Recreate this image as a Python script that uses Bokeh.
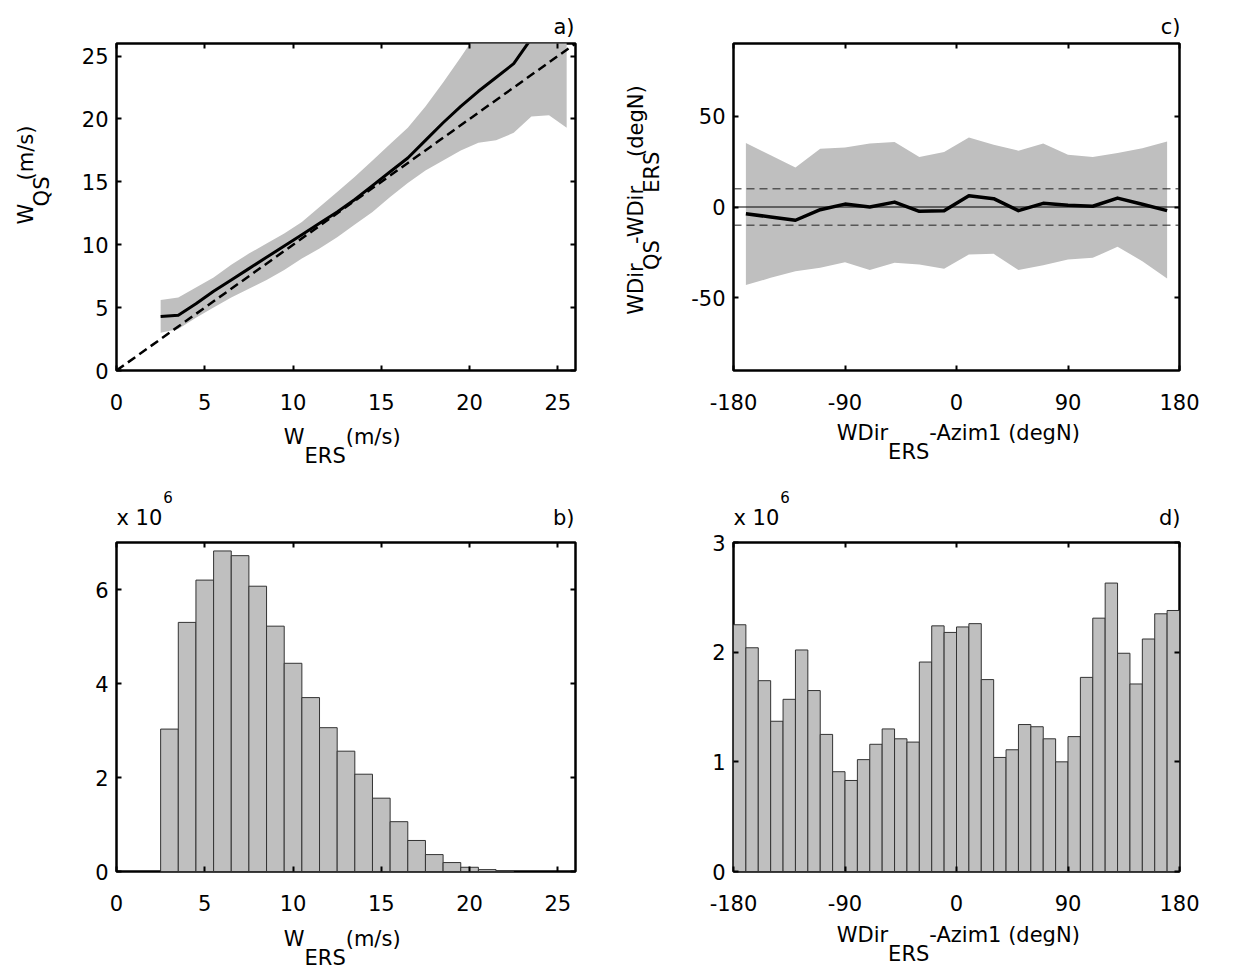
import math
from bokeh.plotting import figure
from bokeh.layouts import column, row
from bokeh.models import Range1d, FixedTicker, LinearAxis, Span
from bokeh.core.properties import value
from bokeh.embed import file_html
from bokeh.resources import INLINE

# ---------------- data ----------------
# panel a: W_QS vs W_ERS (bin centres, mean, band)
a_x = [2.5, 3.5, 4.5, 5.5, 6.5, 7.5, 8.5, 9.5, 10.5, 11.5, 12.5, 13.5, 14.5,
       15.5, 16.5, 17.5, 18.5, 19.5, 20.5, 21.5, 22.5, 23.5, 24.5, 25.5]
a_mean = [4.3, 4.4, 5.3, 6.3, 7.2, 8.1, 9.0, 9.9, 10.8, 11.7, 12.6, 13.6, 14.7,
          15.8, 16.9, 18.3, 19.7, 21.0, 22.2, 23.3, 24.4, 26.4, 28.0, 29.5]
a_upper = [5.6, 5.8, 6.6, 7.4, 8.4, 9.3, 10.1, 10.9, 11.8, 13.0, 14.2, 15.4, 16.7,
           18.0, 19.3, 21.0, 22.9, 24.9, 27.0, 28.5, 30.0, 31.0, 32.0, 33.0]
a_lower = [3.0, 3.3, 4.2, 5.0, 5.8, 6.5, 7.2, 8.0, 8.9, 9.7, 10.6, 11.6, 12.6,
           13.8, 14.9, 15.9, 16.7, 17.5, 18.1, 18.3, 18.9, 20.2, 20.3, 19.3]
a_one_to_one = [0, 26]

# panel b: histogram of W_ERS (x 10^6)
b_centers = [3, 4, 5, 6, 7, 8, 9, 10, 11, 12, 13, 14, 15, 16, 17, 18, 19, 20, 21, 22]
b_counts_1e6 = [3.03, 5.30, 6.20, 6.82, 6.72, 6.07, 5.22, 4.43, 3.70, 3.06, 2.56,
                2.07, 1.56, 1.06, 0.66, 0.36, 0.19, 0.09, 0.04, 0.015]

# panel c: direction difference vs relative direction
c_x = [-170, -150, -130, -110, -90, -70, -50, -30, -10, 10, 30, 50, 70, 90, 110, 130, 150, 170]
c_mean = [-3.7, -5.5, -7.3, -1.5, 1.6, 0.0, 2.7, -2.4, -2.0, 6.2, 4.6, -2.0, 2.0, 0.9, 0.4, 4.9, 1.5, -2.0]
c_upper = [35.2, 28.5, 21.8, 32.1, 32.8, 34.9, 35.8, 27.5, 30.3, 38.3, 34.3, 31.0, 35.0, 28.8, 27.5, 29.7, 32.4, 36.1]
c_lower = [-43.0, -39.0, -35.3, -33.5, -30.4, -34.7, -30.7, -31.6, -34.0, -26.1, -25.8, -34.7, -32.0, -28.9, -28.0, -21.9, -29.8, -39.3]
c_ref_levels = [-10, 10]

# panel d: histogram of relative direction (x 10^6)
d_centers = [-175, -165, -155, -145, -135, -125, -115, -105, -95, -85, -75, -65,
             -55, -45, -35, -25, -15, -5, 5, 15, 25, 35, 45, 55, 65, 75, 85, 95,
             105, 115, 125, 135, 145, 155, 165, 175]
d_counts_1e6 = [2.25, 2.04, 1.74, 1.37, 1.57, 2.02, 1.65, 1.25, 0.91, 0.83, 1.02, 1.16,
                1.30, 1.21, 1.18, 1.91, 2.24, 2.18, 2.23, 2.26, 1.75, 1.04, 1.11, 1.34,
                1.32, 1.21, 1.00, 1.23, 1.77, 2.31, 2.63, 1.99, 1.71, 2.12, 2.35, 2.38]

w_ticks = [0, 5, 10, 15, 20, 25]
dir_ticks = [-180, -90, 0, 90, 180]
c_yticks = [-50, 0, 50]
b_yticks = [0, 2, 4, 6]
d_yticks = [0, 1, 2, 3]
minus_labels = {-180: "-180", -90: "-90", -50: "-50"}

# axis label texts: (text, is_subscript)
lab_w_ers = [("W", False), ("ERS", True), (" (m/s)", False)]
lab_w_qs = [("W", False), ("QS", True), (" (m/s)", False)]
lab_dir_rel = [("WDir", False), ("ERS", True), ("-Azim1 (degN)", False)]
lab_dir_diff = [("WDir", False), ("QS", True), ("-WDir", False), ("ERS", True), (" (degN)", False)]

FONT = "DejaVu Sans"
FSN = 21
FS = "21px"
GRAY = "#bfbfbf"
BASE_FIX = 0.38  # empirical offset of the alphabetic baseline in the svg output (em)

# approximate DejaVu Sans advance widths (em) for centring composed labels
ADV = {"W": 0.989, "D": 0.770, "i": 0.278, "r": 0.411, "E": 0.632, "R": 0.695,
       "S": 0.635, "-": 0.361, "A": 0.684, "z": 0.525, "m": 0.974, "1": 0.636,
       " ": 0.318, "(": 0.390, ")": 0.390, "d": 0.635, "e": 0.615, "g": 0.635,
       "N": 0.748, "Q": 0.787, "/": 0.337, "s": 0.521, "x": 0.592, "0": 0.636}


def tw(t, size=FSN):
    return sum(ADV.get(c, 0.6) for c in t) * size


def make_fig(w, h, bl, br, bt, bb, xr, yr, xt, yt):
    p = figure(width=w, height=h, x_range=Range1d(*xr), y_range=Range1d(*yr),
               output_backend="svg", toolbar_location=None,
               min_border_left=bl, min_border_right=br,
               min_border_top=bt, min_border_bottom=bb)
    p.xgrid.visible = False
    p.ygrid.visible = False
    p.background_fill_color = "white"
    p.border_fill_color = "white"
    p.outline_line_color = "black"
    p.outline_line_width = 2.5
    p.add_layout(LinearAxis(), "above")
    p.add_layout(LinearAxis(), "right")
    for ax in p.xaxis:
        ax.ticker = FixedTicker(ticks=xt)
    for ax in p.yaxis:
        ax.ticker = FixedTicker(ticks=yt)
    for ax in p.axis:
        ax.axis_line_color = None
        ax.major_tick_in = 5
        ax.major_tick_out = 0
        ax.major_tick_line_width = 2
        ax.minor_tick_line_color = None
        ax.major_label_text_font = FONT
        ax.major_label_text_font_size = FS
        ax.major_label_text_color = "black"
        ax.major_label_overrides = minus_labels
    p.below[0].major_label_standoff = 23
    p.left[0].major_label_standoff = 8
    for ax in (p.above[0], p.right[0]):
        ax.major_label_text_color = None
        ax.major_label_text_font_size = "0px"
        ax.major_label_standoff = 0
    return p


def strip(x0, y0, w, h):
    s = figure(width=w, height=h, x_range=Range1d(x0, x0 + w), y_range=Range1d(y0 + h, y0),
               x_axis_type=None, y_axis_type=None, output_backend="svg",
               toolbar_location=None, min_border=0)
    s.outline_line_color = None
    s.background_fill_color = "white"
    s.border_fill_color = "white"
    return s


def put(s, X, Y, t, align="left", angle=0.0, size=FSN):
    fix = BASE_FIX * size
    if angle == 0.0:
        Y = Y - fix
    else:
        X = X - fix
    s.text(x=[X], y=[Y], text=[t], angle=angle, text_align=align,
           text_baseline="alphabetic", text_font=value(FONT),
           text_font_size=value(f"{size}px"), text_color="black")


def hlabel(s, pieces, cx, base, sub_off=19):
    total = sum(tw(t) for t, _ in pieces)
    x = cx - total / 2
    for t, sub in pieces:
        put(s, x, base + (sub_off if sub else 0), t)
        x += tw(t)


def vlabel(s, pieces, bx, cy, sub_off=16):
    total = sum(tw(t) for t, _ in pieces)
    y = cy + total / 2
    for t, sub in pieces:
        put(s, bx + (sub_off if sub else 0), y, t, angle=math.pi / 2)
        y -= tw(t)


# ---------- row 0: panel letters a), c) ----------
s0 = strip(0, 0, 1234, 40)
put(s0, 574, 34, "a)", align="right")
put(s0, 1180, 34, "c)", align="right")

# ---------- row 1: panels a and c ----------
yl_a = strip(0, 40, 60, 376)
vlabel(yl_a, lab_w_qs, 33, 192)

pa = make_fig(557, 376, 56, 42, 3, 46, (0, 26), (0, 26), w_ticks, w_ticks)
pa.varea(x=a_x, y1=a_lower, y2=a_upper, fill_color=GRAY, fill_alpha=1)
pa.line(x=a_one_to_one, y=a_one_to_one, line_color="black", line_width=2.5, line_dash="9 5")
pa.line(x=a_x, y=a_mean, line_color="black", line_width=3, line_join="round")

yl_c = strip(617, 40, 53, 376)
vlabel(yl_c, lab_dir_diff, 643, 222)

pc = make_fig(564, 376, 63, 55, 3, 45, (-180, 180), (-90, 90), dir_ticks, c_yticks)
pc.varea(x=c_x, y1=c_lower, y2=c_upper, fill_color=GRAY, fill_alpha=1)
for lev in c_ref_levels:
    pc.add_layout(Span(location=lev, dimension="width", line_color="#222222",
                       line_width=1, line_dash="8 5"))
pc.add_layout(Span(location=0, dimension="width", line_color="black", line_width=1))
pc.line(x=c_x, y=c_mean, line_color="black", line_width=3.5, line_join="round")

# ---------- row 2: x labels of a, c and headers of b, d ----------
s2 = strip(0, 416, 1234, 114)
hlabel(s2, lab_w_ers, 345, 444)
hlabel(s2, lab_dir_rel, 958, 440)
put(s2, 116, 525, "x 10")
put(s2, 116 + tw("x 10") + 1, 502, "6", size=15)
put(s2, 574, 525, "b)", align="right")
put(s2, 733, 525, "x 10")
put(s2, 733 + tw("x 10") + 1, 502, "6", size=15)
put(s2, 1180, 525, "d)", align="right")

# ---------- row 3: panels b and d ----------
pb = make_fig(617, 388, 116, 42, 12, 47, (0, 26), (0, 7), w_ticks, b_yticks)
pb.vbar(x=b_centers, top=b_counts_1e6, width=1, bottom=0, fill_color=GRAY,
        line_color="#333333", line_width=1)

pd_ = make_fig(617, 388, 116, 55, 12, 47, (-180, 180), (0, 3), dir_ticks, d_yticks)
pd_.vbar(x=d_centers, top=d_counts_1e6, width=10, bottom=0, fill_color=GRAY,
         line_color="#333333", line_width=1)

# ---------- row 4: x labels of b, d ----------
s4 = strip(0, 918, 1234, 56)
hlabel(s4, lab_w_ers, 345, 946)
hlabel(s4, lab_dir_rel, 958, 942)

layout = column(s0, row(yl_a, pa, yl_c, pc), s2, row(pb, pd_), s4)
open("out.html", "w").write(file_html(layout, INLINE))
